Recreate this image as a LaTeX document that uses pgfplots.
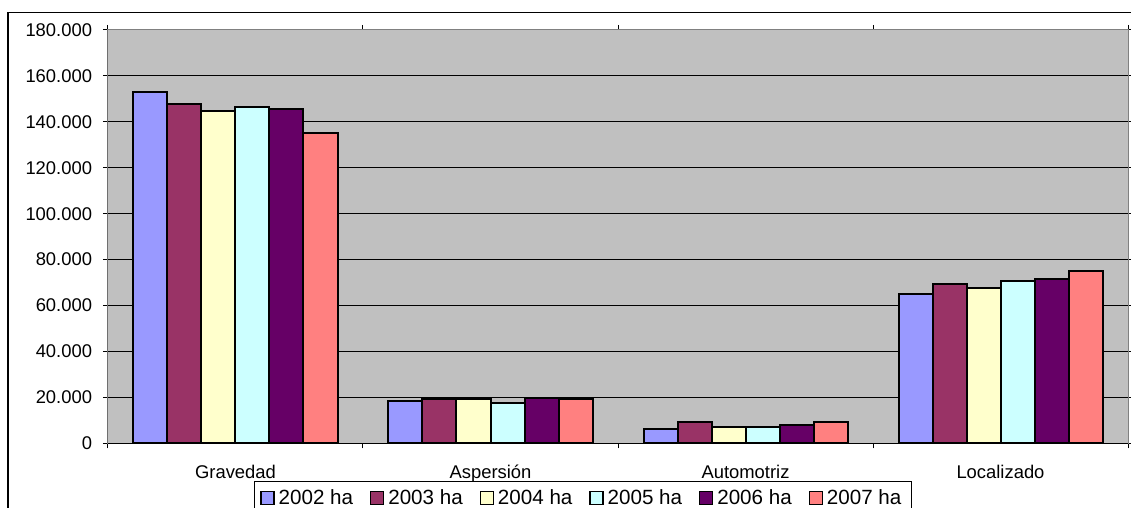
\documentclass[border=0pt]{standalone}
\usepackage{pgfplots}
\pgfplotsset{compat=1.18}
\usepackage{fontspec}
\setmainfont{Liberation Sans}
\definecolor{c02}{HTML}{9999FF}
\definecolor{c03}{HTML}{993366}
\definecolor{c04}{HTML}{FFFFCC}
\definecolor{c05}{HTML}{CCFFFF}
\definecolor{c06}{HTML}{660066}
\definecolor{c07}{HTML}{FF8080}
\definecolor{plotgray}{HTML}{C0C0C0}
\definecolor{boxgray}{HTML}{808080}
\pgfplotstableread{
x  y02    y03    y04    y05    y06    y07
0  152800 147900 144700 146300 145600 135100
1  18300  19200  19200  17600  19900  19200
2  6200   9300   7000   7000   8000   9300
3  64900  69400  67800  70700  71500  75200
}\datatab
\begin{document}
\begin{tikzpicture}
\useasboundingbox (-54pt,-32.35pt) rectangle (511.5pt,221.65pt);
\fill[white] (-54pt,-32.35pt) rectangle (511.5pt,221.65pt);
\draw[black,line width=0.6pt] (-50pt,-45pt) -- (-50pt,215.3pt) -- (520pt,215.3pt);
\begin{axis}[
  at={(0pt,0pt)}, anchor=south west,
  width=510pt, height=206.65pt, scale only axis,
  xmin=-0.5, xmax=3.5, ymin=0, ymax=180000,
  ytick={0,20000,40000,60000,80000,100000,120000,140000,160000,180000},
  yticklabels={0,20.000,40.000,60.000,80.000,100.000,120.000,140.000,160.000,180.000},
  scaled y ticks=false,
  axis background/.style={fill=plotgray},
  axis line style={draw=boxgray, line width=0.5pt},
  ymajorgrids, grid style={black, line width=0.5pt},
  tick align=outside,
  major tick length=2.6pt,
  tick style={black, line width=0.5pt},
  xtick={-0.5,0.5,1.5,2.5,3.5}, xticklabels={},
  extra x ticks={0,1,2,3},
  extra x tick labels={Gravedad,Aspersión,Automotriz,Localizado},
  extra x tick style={major tick length=0pt, xticklabel style={yshift=-7.5pt}},
  xticklabel style={font=\fontsize{9.2}{11}\selectfont},
  yticklabel style={font=\fontsize{9.2}{11}\selectfont, xshift=-1.85pt},
  legend columns=6,
  legend style={at={(0.1431,-0.0905)}, anchor=north west, draw=black, line width=0.5pt,
    font=\fontsize{10.3}{12}\selectfont, inner xsep=3pt, inner ysep=2pt,
    /tikz/every even column/.append style={column sep=6.5pt}},
  every axis plot post/.append style={legend image code/.code={\draw[#1,line width=0.6pt] (0pt,-3.2pt) rectangle (6.5pt,3.2pt);}},
  bb/.style={ybar, bar width=17pt, bar shift=#1, draw=none},
  ob/.style={ybar, bar width=17pt, bar shift=#1, draw=black, fill=none, line width=1pt, forget plot},
]
\addplot[bb=-42.5pt, fill=c02] table[x=x,y=y02] {\datatab};
\addlegendentry{2002 ha}
\addplot[bb=-25.5pt, fill=c03] table[x=x,y=y03] {\datatab};
\addlegendentry{2003 ha}
\addplot[bb=-8.5pt, fill=c04] table[x=x,y=y04] {\datatab};
\addlegendentry{2004 ha}
\addplot[bb=8.5pt, fill=c05] table[x=x,y=y05] {\datatab};
\addlegendentry{2005 ha}
\addplot[bb=25.5pt, fill=c06] table[x=x,y=y06] {\datatab};
\addlegendentry{2006 ha}
\addplot[bb=42.5pt, fill=c07] table[x=x,y=y07] {\datatab};
\addlegendentry{2007 ha}
\addplot[ob=-42.5pt] table[x=x,y=y02] {\datatab};
\addplot[ob=-25.5pt] table[x=x,y=y03] {\datatab};
\addplot[ob=-8.5pt] table[x=x,y=y04] {\datatab};
\addplot[ob=8.5pt] table[x=x,y=y05] {\datatab};
\addplot[ob=25.5pt] table[x=x,y=y06] {\datatab};
\addplot[ob=42.5pt] table[x=x,y=y07] {\datatab};
\draw[black, line width=0.5pt] (rel axis cs:0,0) -- (rel axis cs:1,0);
\draw[black, line width=0.5pt] (rel axis cs:0,0) -- (rel axis cs:0,1);
\end{axis}
\end{tikzpicture}
\end{document}
